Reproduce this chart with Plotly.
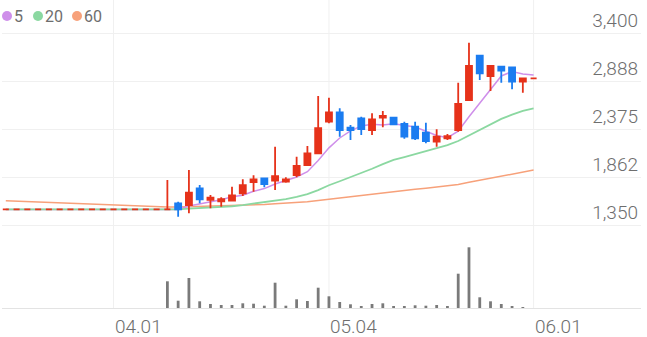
import plotly.graph_objects as go
import pandas as pd

# ---------------- data ----------------
days = list(range(50))
opens = [1520] * 15 + [
    1520, 1585, 1567, 1745, 1623, 1606, 1613, 1692, 1812, 1852,
    1826, 1816, 1887, 1994, 2119, 2456, 2556, 2392, 2492, 2367,
    2499, 2499, 2432, 2403, 2339, 2243, 2279, 2367, 2688, 3161,
    2944, 3043, 3037, 2883, 2919]
highs = [1520] * 15 + [
    1834, 1602, 1940, 1780, 1674, 1649, 1762, 1841, 1884, 1855,
    2189, 1862, 2082, 2197, 2730, 2712, 2599, 2421, 2510, 2546,
    2570, 2500, 2456, 2456, 2445, 2375, 2325, 2872, 3300, 3168,
    3060, 3051, 3043, 2919, 2919]
lows = [1520] * 15 + [
    1510, 1442, 1478, 1585, 1531, 1549, 1610, 1663, 1709, 1756,
    1727, 1805, 1862, 1983, 2119, 2439, 2296, 2261, 2314, 2314,
    2396, 2426, 2275, 2261, 2225, 2189, 2261, 2349, 2680, 2901,
    2784, 2872, 2802, 2766, 2919]
closes = [1520] * 15 + [
    1520, 1520, 1698, 1628, 1645, 1628, 1670, 1780, 1841, 1791,
    1876, 1841, 1983, 2119, 2386, 2556, 2367, 2367, 2378, 2482,
    2517, 2428, 2296, 2279, 2250, 2296, 2303, 2645, 3051, 2973,
    3051, 3001, 2883, 2919, 2919]
volumes = [0] * 15 + [
    267000, 73000, 300000, 67000, 40000, 30000, 30000, 47000, 43000, 23000,
    253000, 23000, 87000, 70000, 203000, 117000, 60000, 37000, 20000, 40000,
    47000, 13000, 17000, 27000, 23000, 30000, 13000, 343000, 607000, 107000,
    67000, 40000, 20000, 7000, 0]
prior_closes = [1520] * 19
ma60 = [1613, 1608, 1604, 1599, 1595, 1590, 1586, 1581, 1577, 1572,
        1568, 1563, 1559, 1554, 1550, 1545, 1545, 1548, 1550, 1553,
        1555, 1558, 1563, 1568, 1573, 1579, 1585, 1592, 1601, 1614,
        1630, 1643, 1656, 1669, 1683, 1698, 1711, 1723, 1734, 1746,
        1757, 1769, 1786, 1809, 1831, 1854, 1876, 1897, 1918, 1940]

tick_days = [10, 30, 49]
tick_labels = ["04.01", "05.04", "06.01"]
price_ticks = [1350, 1862.5, 2375, 2887.5, 3400]
price_tick_labels = ["1,350", "1,862", "2,375", "2,888", "3,400"]
ma_names = ["5", "20", "60"]

# ---------------- styles ----------------
RED = "#e6321a"
BLUE = "#1b7cf0"
MA_COLORS = {"5": "#cf8fea", "20": "#8bd8a1", "60": "#f7a17a"}
GRID = "#f0f0f0"
TXT = "#6e6e6e"
FONT = "Roboto"
PRICE_RANGE = [1278.5, 3755.5]

s = pd.Series(prior_closes + closes, dtype=float)
n_prior = len(prior_closes)
ma5 = s.rolling(5).mean().iloc[n_prior:].tolist()
ma20 = s.rolling(20).mean().iloc[n_prior:].tolist()

fig = go.Figure()
fig.add_trace(go.Scatter(x=days, y=ma60, mode="lines", name="60",
                         line=dict(color=MA_COLORS["60"], width=1.5),
                         hoverinfo="skip", showlegend=False))
fig.add_trace(go.Scatter(x=days, y=ma5, mode="lines", name="5",
                         line=dict(color=MA_COLORS["5"], width=1.5),
                         hoverinfo="skip", showlegend=False))
fig.add_trace(go.Scatter(x=days, y=ma20, mode="lines", name="20",
                         line=dict(color=MA_COLORS["20"], width=1.8),
                         hoverinfo="skip", showlegend=False))
# candles on an overlaying axis so they are drawn above the MA lines
fig.add_trace(go.Candlestick(
    x=days, open=opens, high=highs, low=lows, close=closes, yaxis="y3",
    increasing=dict(line=dict(color=RED, width=1.8), fillcolor=RED),
    decreasing=dict(line=dict(color=BLUE, width=1.8), fillcolor=BLUE),
    whiskerwidth=0, showlegend=False))
fig.add_trace(go.Bar(x=days, y=volumes, yaxis="y2", width=0.26,
                     marker=dict(color="#7a7a7a", line=dict(width=0)),
                     showlegend=False, hoverinfo="skip"))

shapes = []
for t in tick_days:
    shapes.append(dict(type="line", xref="x", yref="paper", x0=t, x1=t,
                       y0=0, y1=1, line=dict(color=GRID, width=1), layer="below"))

legend_dx = [0, 31, 70]
for name, dx in zip(ma_names, legend_dx):
    shapes.append(dict(type="circle", xref="paper", yref="paper",
                       xsizemode="pixel", ysizemode="pixel",
                       xanchor=0, yanchor=1,
                       x0=dx, x1=dx + 10, y0=-21, y1=-11,
                       fillcolor=MA_COLORS[name], line=dict(width=0)))

annotations = []
for name, dx in zip(ma_names, legend_dx):
    annotations.append(dict(text=name, xref="paper", yref="paper", x=0, y=1,
                            xanchor="left", yanchor="middle",
                            xshift=dx + 10, yshift=-16, showarrow=False,
                            font=dict(family=FONT, size=16, color=TXT)))
for t, lab in zip(tick_days, tick_labels):
    annotations.append(dict(text=lab, xref="x", yref="paper", x=t, y=0,
                            xanchor="left", yanchor="middle", borderpad=0,
                            height=20, xshift=0, yshift=-18, showarrow=False,
                            font=dict(family=FONT, size=19, color=TXT, weight=300)))

fig.update_layout(
    width=647, height=337,
    margin=dict(l=2, r=6, t=0, b=29),
    paper_bgcolor="white", plot_bgcolor="white",
    showlegend=False,
    boxgap=0.2,
    xaxis=dict(range=[-0.353, 58.97], showgrid=False, zeroline=False,
               showticklabels=False, ticks="", showline=True,
               linecolor="#e3e3e3", linewidth=1, anchor="y2",
               rangeslider=dict(visible=False), fixedrange=True),
    yaxis=dict(domain=[76 / 308, 1], range=PRICE_RANGE, side="right",
               tickvals=price_ticks, ticktext=price_tick_labels,
               ticklabelposition="inside top", ticks="",
               showgrid=True, gridcolor=GRID, gridwidth=1,
               zeroline=False, showline=False,
               tickfont=dict(family=FONT, size=19, color=TXT, weight=300)),
    yaxis3=dict(overlaying="y", range=PRICE_RANGE, side="right",
                visible=False, showgrid=False, zeroline=False),
    yaxis2=dict(domain=[0, 68 / 308], range=[0, max(volumes) * 68 / 60.7],
                showgrid=False, zeroline=False, showticklabels=False,
                ticks="", showline=False),
    shapes=shapes, annotations=annotations,
)

fig.write_html("out.html")
